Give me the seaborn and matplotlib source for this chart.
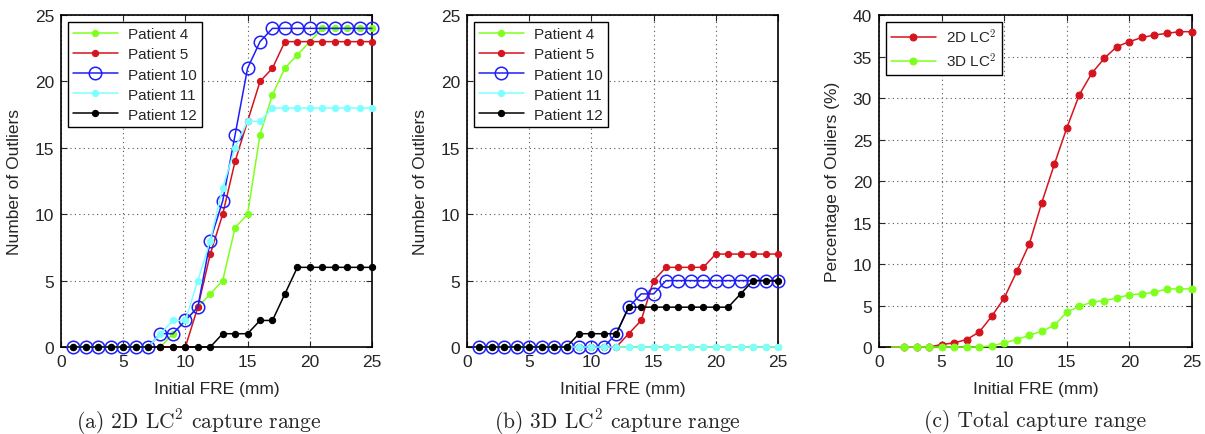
import numpy as np
import pandas as pd
import seaborn as sns
from matplotlib import pyplot as plt

# initial FRE (mm)
fre = list(range(1, 26))

# 2D LC^2 outliers per patient
a_p4 = [0, 0, 0, 0, 0, 0, 0, 0, 1, 2, 3, 4, 5, 9, 10, 16, 19, 21, 22, 23, 24, 24, 24, 24, 24]
a_p5 = [0, 0, 0, 0, 0, 0, 0, 0, 0, 0, 3, 7, 10, 14, 17, 20, 21, 23, 23, 23, 23, 23, 23, 23, 23]
a_p10 = [0, 0, 0, 0, 0, 0, 0, 1, 1, 2, 3, 8, 11, 16, 21, 23, 24, 24, 24, 24, 24, 24, 24, 24, 24]
a_p11 = [0, 0, 0, 0, 0, 0, 0, 1, 2, 2, 5, 8, 12, 15, 17, 17, 18, 18, 18, 18, 18, 18, 18, 18, 18]
a_p12 = [0, 0, 0, 0, 0, 0, 0, 0, 0, 0, 0, 0, 1, 1, 1, 2, 2, 4, 6, 6, 6, 6, 6, 6, 6]

# 3D LC^2 outliers per patient
b_p4 = [0] * 25
b_p5 = [0, 0, 0, 0, 0, 0, 0, 0, 0, 0, 0, 0, 1, 2, 5, 6, 6, 6, 6, 7, 7, 7, 7, 7, 7]
b_p10 = [0, 0, 0, 0, 0, 0, 0, 0, 0, 0, 0, 1, 3, 4, 4, 5, 5, 5, 5, 5, 5, 5, 5, 5, 5]
b_p11 = [0] * 25
b_p12 = [0, 0, 0, 0, 0, 0, 0, 0, 1, 1, 1, 1, 3, 3, 3, 3, 3, 3, 3, 3, 3, 4, 5, 5, 5]

# total percentage of outliers
pct_2d = [0, 0, 0, 0, 0.3, 0.5, 0.9, 1.8, 3.7, 5.9, 9.1, 12.4, 17.4, 22.0, 26.4, 30.4,
          33.0, 34.8, 36.2, 36.8, 37.3, 37.6, 37.8, 38.0, 38.0]
pct_3d = [0, 0, 0, 0, 0, 0, 0, 0, 0.15, 0.5, 0.9, 1.4, 1.9, 2.6, 4.2, 4.9,
          5.4, 5.6, 5.9, 6.3, 6.4, 6.6, 7.0, 7.0, 7.0]

patients = ['Patient 4', 'Patient 5', 'Patient 10', 'Patient 11', 'Patient 12']
green, red, blue, cyan, black = '#7fff1e', '#d4141e', '#1e1efa', '#7fffff', '#000000'
pat_colors = [green, red, blue, cyan, black]

sns.set_style('ticks')
plt.rcParams['font.family'] = ['Liberation Sans', 'DejaVu Sans']
plt.rcParams['mathtext.fontset'] = 'cm'

f = plt.figure(figsize=(12.05, 4.35), dpi=100)
ax1 = f.add_axes([0.0506, 0.2, 0.2581, 0.763])
ax2 = f.add_axes([0.3876, 0.2, 0.2580, 0.763])
ax3 = f.add_axes([0.7295, 0.2, 0.2597, 0.763])


def draw_patients(ax, series):
    for name, col, ys in zip(patients, pat_colors, series):
        if name == 'Patient 10':
            sns.lineplot(x=fre, y=ys, ax=ax, color=col, marker='o', markersize=9,
                         markerfacecolor='none', markeredgecolor=col,
                         markeredgewidth=1.1, lw=1.1, label=name, clip_on=False, zorder=3)
        else:
            sns.lineplot(x=fre, y=ys, ax=ax, color=col, marker='o', markersize=4.5,
                         markeredgecolor=col, lw=1.1, label=name, clip_on=False, zorder=3)


draw_patients(ax1, [a_p4, a_p5, a_p10, a_p11, a_p12])
draw_patients(ax2, [b_p4, b_p5, b_p10, b_p11, b_p12])

sns.lineplot(x=fre, y=pct_2d, ax=ax3, color=red, marker='o', markersize=5,
             markeredgecolor=red, lw=1.1, label='2D LC$^2$',
             markevery=list(range(1, 25)), clip_on=False, zorder=3)
sns.lineplot(x=fre, y=pct_3d, ax=ax3, color=green, marker='o', markersize=5,
             markeredgecolor=green, lw=1.1, label='3D LC$^2$',
             markevery=list(range(1, 25)), clip_on=False, zorder=3)

for ax, ymax, ylab in [(ax1, 25, 'Number of Outliers'),
                       (ax2, 25, 'Number of Outliers'),
                       (ax3, 40, 'Percentage of Ouliers (%)')]:
    ax.set_xlim(0, 25)
    ax.set_ylim(0, ymax)
    ax.set_xticks([0, 5, 10, 15, 20, 25])
    ax.set_yticks(np.arange(0, ymax + 1, 5))
    ax.grid(True, linestyle=(0, (1, 3)), color='#555555', lw=0.8)
    ax.tick_params(direction='in', top=True, right=True, labelsize=12.5,
                   length=4, width=0.8, pad=5)
    for s in ax.spines.values():
        s.set_linewidth(1.2)
        s.set_color('black')
    ax.set_xlabel('Initial FRE (mm)', fontsize=12.5, labelpad=9)
    ax.set_ylabel(ylab, fontsize=12.5, labelpad=9)
    leg = ax.legend(loc='upper left', fontsize=11, frameon=True, fancybox=False,
                    edgecolor='black', framealpha=1, handlelength=2.9,
                    borderaxespad=0.45, labelspacing=0.4, borderpad=0.35,
                    handletextpad=0.7)
    leg.get_frame().set_linewidth(1.0)
    leg.set_zorder(5)

caps = [r'(a) 2D LC$^2$ capture range', r'(b) 3D LC$^2$ capture range',
        '(c) Total capture range']
for x, c in zip([0.165, 0.512, 0.859], caps):
    f.text(x, 0.03, c, ha='center', va='center', fontsize=15.5, family='cmr10')

f.savefig('out.png', dpi=100)
